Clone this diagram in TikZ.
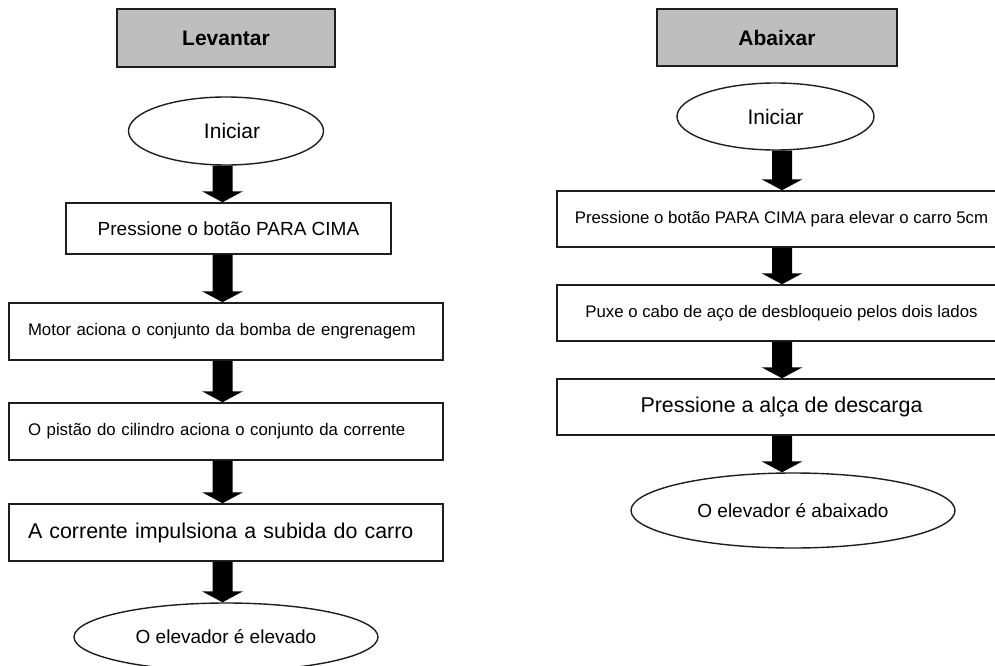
\documentclass[tikz,border=0pt]{standalone}
\usepackage{fontspec}
\setmainfont{Liberation Sans}
\usetikzlibrary{calc,shapes.geometric}
\definecolor{hdrgray}{RGB}{190,190,190}
\definecolor{linec}{RGB}{30,30,30}
\newcommand\fatarrow[3]{%
  \fill[black] let \p1=(#1 |- #2.south), \p2=(#1 |- #3.north) in
   (\x1-10pt,\y1) -- (\x1+10pt,\y1) -- (\x1+10pt,\y2+11pt) -- (\x1+20.5pt,\y2+11pt)
   -- (\x1,\y2) -- (\x1-20.5pt,\y2+11pt) -- (\x1-10pt,\y2+11pt) -- cycle;}
\begin{document}
\begin{tikzpicture}[x=1pt,y=-1pt,
  hdr/.style={draw=linec,line width=1.5pt,fill=hdrgray,inner sep=0pt,
    font=\fontsize{21}{24}\selectfont\bfseries},
  oval/.style={ellipse,draw=linec,line width=1.4pt,fill=white,inner sep=0pt},
  stepbox/.style={draw=linec,line width=1.5pt,fill=white,inner sep=0pt},
  lbox/.style={stepbox,minimum height=57pt,text width=396pt,inner xsep=19pt,align=left},
  rbox/.style={stepbox,minimum width=449pt,minimum height=56pt},
  fsmall/.style={font=\fontsize{16.8}{19}\selectfont},
  fmid/.style={font=\fontsize{19}{22}\selectfont},
  fbig/.style={font=\fontsize{21.4}{24}\selectfont}]
\useasboundingbox (0,0) rectangle (995,666);
\clip (0,0) rectangle (995,666);
\fill[white] (0,0) rectangle (995,666);
\coordinate (LX) at (222.5,0);
\coordinate (RX) at (782,0);
% Left column
\node[hdr,minimum width=218pt,minimum height=58pt] (lh) at (226,38) {Levantar};
\node[oval,minimum width=195pt,minimum height=68pt,font=\fontsize{21}{24}\selectfont] (l0) at (226,131) {\hspace{12pt}Iniciar};
\node[stepbox,minimum width=325pt,minimum height=51pt,fmid] (l1) at (228.5,228.5) {\raisebox{-3.5pt}{Pressione o botão PARA CIMA}};
\node[lbox,fsmall] (l2) at (226,331.5) {Motor aciona o conjunto da bomba de engrenagem};
\node[lbox,fsmall] (l3) at (226,431.5) {O pistão do cilindro aciona o conjunto da corrente};
\node[lbox,fbig] (l4) at (226,532.5) {A corrente impulsiona a subida do carro};
\node[oval,minimum width=304pt,minimum height=68pt,fmid] (l5) at (226,637) {\raisebox{-2pt}{O elevador é elevado}};
% Right column
\node[hdr,minimum width=240pt,minimum height=57pt] (rh) at (777,37.5) {Abaixar};
\node[oval,minimum width=197pt,minimum height=67pt,font=\fontsize{21}{24}\selectfont] (r0) at (775.5,116.5) {Iniciar};
\node[rbox,fsmall] (r1) at (781.5,219) {Pressione o botão PARA CIMA para elevar o carro 5cm};
\node[rbox,fsmall] (r2) at (781.5,313) {Puxe o cabo de aço de desbloqueio pelos dois lados};
\node[rbox,fbig] (r3) at (781.5,407) {Pressione a alça de descarga};
\node[oval,minimum width=324pt,minimum height=75pt,fmid] (r4) at (793,510.5) {O elevador é abaixado};
% Arrows
\fatarrow{LX}{l0}{l1}
\fatarrow{LX}{l1}{l2}
\fatarrow{LX}{l2}{l3}
\fatarrow{LX}{l3}{l4}
\fatarrow{LX}{l4}{l5}
\fatarrow{RX}{r0}{r1}
\fatarrow{RX}{r1}{r2}
\fatarrow{RX}{r2}{r3}
\fatarrow{RX}{r3}{r4}
\end{tikzpicture}
\end{document}
